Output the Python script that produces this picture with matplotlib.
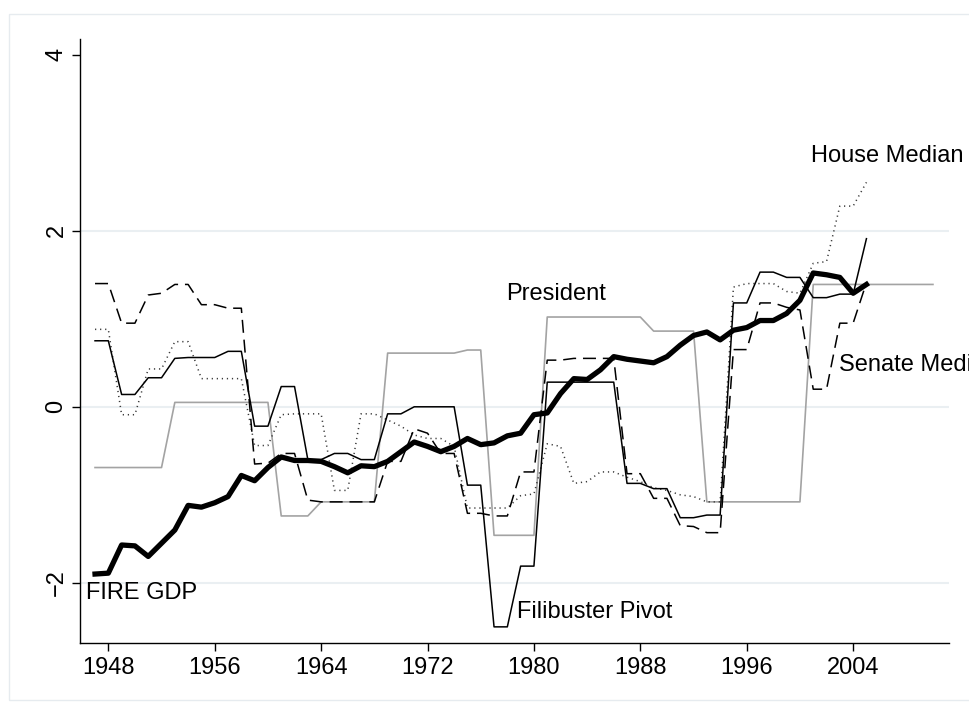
import matplotlib.pyplot as plt
from matplotlib.patches import Rectangle

plt.rcParams.update(
    {
        "font.family": ["Liberation Sans", "DejaVu Sans"],
        "font.size": 17,
        "axes.unicode_minus": True,
    }
)

# %% data
years = list(range(1947, 2006))
years_pres = list(range(1947, 2011))

fire_gdp = [
    -1.90, -1.89, -1.57, -1.58, -1.70, -1.55, -1.40, -1.12, -1.14, -1.09,
    -1.02, -0.78, -0.84, -0.69, -0.57, -0.61, -0.61, -0.62, -0.68, -0.75,
    -0.67, -0.68, -0.62, -0.51, -0.40, -0.45, -0.51, -0.45, -0.36, -0.43,
    -0.41, -0.33, -0.30, -0.09, -0.07, 0.15, 0.32, 0.31, 0.42, 0.57,
    0.54, 0.52, 0.50, 0.57, 0.70, 0.81, 0.85, 0.76, 0.87, 0.90,
    0.98, 0.98, 1.06, 1.21, 1.52, 1.50, 1.47, 1.29, 1.39,
]

filibuster = [
    0.75, 0.75, 0.14, 0.14, 0.33, 0.33, 0.55, 0.56, 0.56, 0.56,
    0.63, 0.63, -0.22, -0.22, 0.23, 0.23, -0.60, -0.60, -0.53, -0.53,
    -0.60, -0.60, -0.08, -0.08, 0.00, 0.00, 0.00, 0.00, -0.89, -0.89,
    -2.50, -2.50, -1.81, -1.81, 0.28, 0.28, 0.28, 0.28, 0.28, 0.28,
    -0.87, -0.87, -0.93, -0.93, -1.26, -1.26, -1.23, -1.23, 1.18, 1.18,
    1.53, 1.53, 1.47, 1.47, 1.24, 1.24, 1.28, 1.28, 1.91,
]

house_median = [
    0.88, 0.88, -0.09, -0.09, 0.43, 0.43, 0.74, 0.74, 0.32, 0.32,
    0.32, 0.32, -0.44, -0.44, -0.09, -0.08, -0.08, -0.08, -0.95, -0.95,
    -0.08, -0.08, -0.15, -0.22, -0.32, -0.36, -0.36, -0.45, -1.15, -1.15,
    -1.15, -1.15, -1.01, -0.99, -0.42, -0.45, -0.87, -0.85, -0.74, -0.74,
    -0.80, -0.85, -0.92, -0.95, -1.00, -1.02, -1.08, -1.08, 1.36, 1.40,
    1.40, 1.40, 1.31, 1.29, 1.63, 1.65, 2.28, 2.28, 2.55,
]

senate_median = [
    1.40, 1.40, 0.95, 0.95, 1.27, 1.29, 1.39, 1.39, 1.16, 1.16,
    1.12, 1.12, -0.65, -0.64, -0.53, -0.53, -1.06, -1.08, -1.08, -1.08,
    -1.08, -1.08, -0.62, -0.62, -0.25, -0.30, -0.53, -0.53, -1.21, -1.21,
    -1.24, -1.24, -0.74, -0.74, 0.53, 0.53, 0.55, 0.55, 0.55, 0.55,
    -0.76, -0.76, -1.04, -1.04, -1.35, -1.36, -1.43, -1.43, 0.65, 0.65,
    1.18, 1.18, 1.13, 1.10, 0.20, 0.20, 0.95, 0.95, 1.41,
]

president = [
    -0.69, -0.69, -0.69, -0.69, -0.69, -0.69, 0.05, 0.05, 0.05, 0.05,
    0.05, 0.05, 0.05, 0.05, -1.24, -1.24, -1.24, -1.08, -1.08, -1.08,
    -1.08, -1.08, 0.61, 0.61, 0.61, 0.61, 0.61, 0.61, 0.645, 0.645,
    -1.46, -1.46, -1.46, -1.46, 1.02, 1.02, 1.02, 1.02, 1.02, 1.02,
    1.02, 1.02, 0.86, 0.86, 0.86, 0.86, -1.08, -1.08, -1.08, -1.08,
    -1.08, -1.08, -1.08, -1.08, 1.39, 1.39, 1.39, 1.39, 1.39, 1.39,
    1.39, 1.39, 1.39, 1.39,
]

xticks = [1948, 1956, 1964, 1972, 1980, 1988, 1996, 2004]
yticks = [-2, 0, 2, 4]

# series labels and where they sit (data coords)
labels = ["FIRE GDP", "Filibuster Pivot", "President", "House Median", "Senate Median"]
label_x = [1946.3, 1978.75, 1977.9, 2000.8, 2002.95]
label_y = [-2.11, -2.33, 1.28, 2.85, 0.48]

# %% figure
fig = plt.figure(figsize=(9.69, 7.07), dpi=100)
ax = fig.add_axes([80 / 969, 1 - 642.7 / 707, 868.5 / 969, 603.4 / 707])

# faint outer frame
fig.add_artist(
    Rectangle(
        (9 / 969, 7 / 707), 1.2, 686 / 707,
        transform=fig.transFigure, fill=False, edgecolor="#e6ebef", lw=1.0,
    )
)

for yv in [-2, 0, 2]:
    ax.axhline(yv, color="#eaeff2", lw=1.5, zorder=0)

ax.plot(years_pres, president, color="#a3a3a3", lw=1.2, zorder=2)
ax.plot(years, house_median, color="#3a3a3a", lw=1.1,
        linestyle=(0, (0.8, 2.5)), zorder=3)
ax.plot(years, senate_median, color="black", lw=1.1,
        linestyle=(0, (8.5, 4.5)), zorder=3)
ax.plot(years, filibuster, color="black", lw=1.1, zorder=4)
ax.plot(years, fire_gdp, color="black", lw=3.8, zorder=5,
        solid_joinstyle="round")

for txt, tx, ty in zip(labels, label_x, label_y):
    ax.text(tx, ty, txt, ha="left", va="center", fontsize=17, clip_on=False)

ax.set_xlim(1945.87, 2011.17)
ax.set_ylim(-2.68, 4.175)
ax.set_xticks(xticks)
ax.set_yticks(yticks)
ax.set_yticklabels(["\u22122", "0", "2", "4"], rotation=90, va="center")

ax.spines["top"].set_visible(False)
ax.spines["right"].set_visible(False)
ax.spines["left"].set_linewidth(1.0)
ax.spines["bottom"].set_linewidth(1.0)
ax.tick_params(axis="both", length=6, width=1.0, color="black")
ax.tick_params(axis="x", pad=4)
ax.tick_params(axis="y", pad=3)

fig.savefig("out.png", dpi=100)
